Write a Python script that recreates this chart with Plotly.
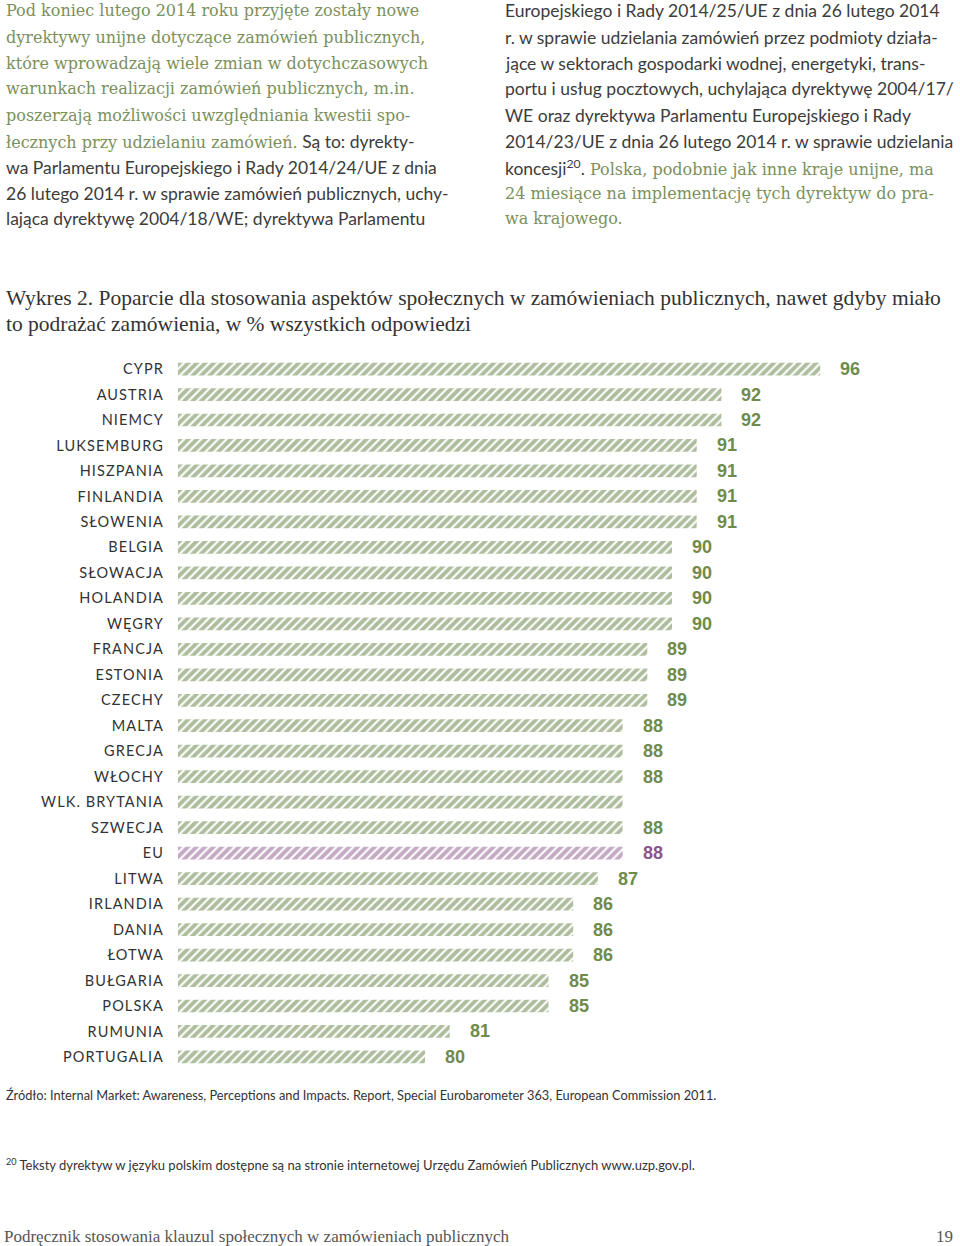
import plotly.graph_objects as go

W, H = 960, 1246

countries = ["CYPR", "AUSTRIA", "NIEMCY", "LUKSEMBURG", "HISZPANIA", "FINLANDIA", "SŁOWENIA",
             "BELGIA", "SŁOWACJA", "HOLANDIA", "WĘGRY", "FRANCJA", "ESTONIA", "CZECHY",
             "MALTA", "GRECJA", "WŁOCHY", "WLK. BRYTANIA", "SZWECJA", "EU", "LITWA",
             "IRLANDIA", "DANIA", "ŁOTWA", "BUŁGARIA", "POLSKA", "RUMUNIA", "PORTUGALIA"]
values = [96, 92, 92, 91, 91, 91, 91, 90, 90, 90, 90, 89, 89, 89,
          88, 88, 88, 88, 88, 88, 87, 86, 86, 86, 85, 85, 81, 80]
value_labels = ["96", "92", "92", "91", "91", "91", "91", "90", "90", "90", "90", "89", "89", "89",
                "88", "88", "88", "", "88", "88", "87", "86", "86", "86", "85", "85", "81", "80"]
highlight = "EU"

GREEN_BAR = "#5e7b3b"
GREEN_LBL = "#6f8b4b"
PURPLE = "#8a5589"
GREEN_TXT = "#7b905c"
GRAY_TXT = "#3c3c3c"

bar_colors = [PURPLE if c == highlight else GREEN_BAR for c in countries]
lbl_colors = [PURPLE if c == highlight else GREEN_LBL for c in countries]

def py(px):
    return 1 - px / H

def px_x(px):
    return px / W

SERIF = "DejaVu Serif"
SANS = "Lato"

tick_text = [f'<span style="letter-spacing:1.1px">{c}</span>' for c in countries]

fig = go.Figure()
fig.add_trace(go.Bar(
    y=countries, x=values, orientation="h",
    marker=dict(color="white", line=dict(width=0),
                pattern=dict(shape="/", fgcolor=bar_colors, bgcolor="white",
                             size=6, solidity=0.65, fillmode="overlay")),
    hoverinfo="skip", showlegend=False,
))

annotations = []
for c, v, t, col in zip(countries, values, value_labels, lbl_colors):
    if t:
        annotations.append(dict(x=v, y=c, xref="x", yref="y", text=t, showarrow=False,
                                xanchor="left", xshift=18,
                                font=dict(family="Liberation Sans Narrow, Arial Narrow, Arial",
                                          size=18, color=col, weight="bold")))

def g(s):
    return f'<span style="color:{GREEN_TXT};font-family:{SERIF};font-size:16px">{s}</span>'

def k(s):
    return f'<span style="color:{GRAY_TXT};font-family:{SANS};font-size:17.5px">{s}</span>'

left_lines = [
    g("Pod koniec lutego 2014 roku przyjęte zostały nowe"),
    g("dyrektywy unijne dotyczące zamówień publicznych,"),
    g("które wprowadzają wiele zmian w dotychczasowych"),
    g("warunkach realizacji zamówień publicznych, m.in."),
    g("poszerzają możliwości uwzględniania kwestii spo-"),
    g("łecznych przy udzielaniu zamówień.") + k(" Są to: dyrekty-"),
    k("wa Parlamentu Europejskiego i Rady 2014/24/UE z dnia"),
    k("26 lutego 2014 r. w sprawie zamówień publicznych, uchy-"),
    k("lająca dyrektywę 2004/18/WE; dyrektywa Parlamentu"),
]
right_lines = [
    k("Europejskiego i Rady 2014/25/UE z dnia 26 lutego 2014"),
    k("r. w sprawie udzielania zamówień przez podmioty działa-"),
    k("jące w sektorach gospodarki wodnej, energetyki, trans-"),
    k("portu i usług pocztowych, uchylająca dyrektywę 2004/17/"),
    k("WE oraz dyrektywa Parlamentu Europejskiego i Rady"),
    k("2014/23/UE z dnia 26 lutego 2014 r. w sprawie udzielania"),
    k("koncesji<sup>20</sup>.") + g(" Polska, podobnie jak inne kraje unijne, ma"),
    g("24 miesiące na implementację tych dyrektyw do pra-"),
    g("wa krajowego."),
]
for i, line in enumerate(left_lines):
    annotations.append(dict(x=px_x(4), y=py(11 + 26 * i), xref="paper", yref="paper",
                            text=line, showarrow=False, xanchor="left", yanchor="middle",
                            font=dict(size=17, color=GRAY_TXT)))
for i, line in enumerate(right_lines):
    annotations.append(dict(x=px_x(503), y=py(11 + 26 * i), xref="paper", yref="paper",
                            text=line, showarrow=False, xanchor="left", yanchor="middle",
                            font=dict(size=17, color=GRAY_TXT)))

title_lines = [
    "Wykres 2. Poparcie dla stosowania aspektów społecznych w zamówieniach publicznych, nawet gdyby miało",
    "to podrażać zamówienia, w % wszystkich odpowiedzi",
]
for i, line in enumerate(title_lines):
    annotations.append(dict(x=px_x(4), y=py(298 + 26 * i), xref="paper", yref="paper",
                            text=line, showarrow=False, xanchor="left", yanchor="middle",
                            font=dict(family="Liberation Serif", size=21.5, color="#333333")))

annotations.append(dict(x=px_x(4), y=py(1095), xref="paper", yref="paper",
                        text="Źródło: Internal Market: Awareness, Perceptions and Impacts. Report, Special Eurobarometer 363, European Commission 2011.",
                        showarrow=False, xanchor="left", yanchor="middle",
                        font=dict(family=SANS, size=12.8, color="#333333")))
annotations.append(dict(x=px_x(4), y=py(1164), xref="paper", yref="paper",
                        text="<sup>20</sup> Teksty dyrektyw w języku polskim dostępne są na stronie internetowej Urzędu Zamówień Publicznych www.uzp.gov.pl.",
                        showarrow=False, xanchor="left", yanchor="middle",
                        font=dict(family=SANS, size=13, color="#333333")))
annotations.append(dict(x=px_x(2), y=py(1236), xref="paper", yref="paper",
                        text="Podręcznik stosowania klauzul społecznych w zamówieniach publicznych",
                        showarrow=False, xanchor="left", yanchor="middle",
                        font=dict(family="Liberation Serif", size=17, color="#555555")))
annotations.append(dict(x=px_x(955), y=py(1236), xref="paper", yref="paper",
                        text="19", showarrow=False, xanchor="right", yanchor="middle",
                        font=dict(family="Liberation Serif", size=17, color="#555555")))

fig.update_layout(
    width=W, height=H,
    margin=dict(l=0, r=0, t=0, b=0),
    paper_bgcolor="white", plot_bgcolor="white",
    bargap=0.5,
    annotations=annotations,
    xaxis=dict(domain=[178 / W, 1], range=[70, 101.66], visible=False, fixedrange=True),
    yaxis=dict(domain=[py(1069.7), py(356.3)], autorange="reversed", showgrid=False,
               showline=False, zeroline=False, ticks="", ticklabelstandoff=13,
               tickmode="array", tickvals=countries, ticktext=tick_text,
               tickfont=dict(family=SANS, size=14.5, color="#333333")),
)

fig.write_html("out.html", config={"displayModeBar": False},
               post_script="document.body.style.margin='0';")
